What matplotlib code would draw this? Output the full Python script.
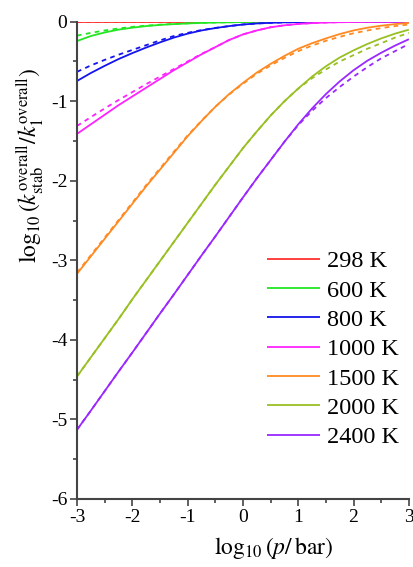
import matplotlib
matplotlib.use('Agg')
import matplotlib.pyplot as plt
import numpy as np
from matplotlib.ticker import MultipleLocator

plt.rcParams['font.family'] = ['Liberation Serif', 'DejaVu Serif']
plt.rcParams['mathtext.fontset'] = 'stix'
plt.rcParams['axes.unicode_minus'] = False

# log10(p / bar) grid
log_p = np.linspace(-3, 3, 25)

temps = ['298 K', '600 K', '800 K', '1000 K', '1500 K', '2000 K', '2400 K']
colors = ['#ff3030', '#22e622', '#1414ee', '#ff22ff', '#ff8a22', '#99c022', '#9a28ff']

# solid curves
k298 = [0.0] * 25
k600 = [-0.243, -0.18, -0.135, -0.10, -0.075, -0.055, -0.04, -0.03, -0.022, -0.015, -0.01, -0.007,
        -0.004, -0.002, -0.001, 0, 0, 0, 0, 0, 0, 0, 0, 0, 0]
k800 = [-0.745, -0.645, -0.555, -0.47, -0.395, -0.325, -0.26, -0.20, -0.15, -0.11, -0.08, -0.055,
        -0.035, -0.022, -0.014, -0.008, -0.005, -0.003, -0.002, -0.001, 0, 0, 0, 0, 0]
k1000 = [-1.41, -1.29, -1.17, -1.05, -0.94, -0.83, -0.72, -0.61, -0.51, -0.41, -0.32, -0.23,
         -0.16, -0.11, -0.07, -0.045, -0.028, -0.017, -0.01, -0.006, -0.004, -0.002, -0.001, 0, 0]
k1500 = [-3.17, -2.95, -2.73, -2.51, -2.29, -2.07, -1.86, -1.65, -1.44, -1.25, -1.07, -0.91,
         -0.77, -0.64, -0.53, -0.43, -0.34, -0.27, -0.21, -0.155, -0.11, -0.075, -0.05, -0.03, -0.015]
k2000 = [-4.46, -4.22, -3.98, -3.74, -3.49, -3.25, -3.01, -2.77, -2.53, -2.29, -2.05, -1.82,
         -1.59, -1.38, -1.18, -1.00, -0.84, -0.69, -0.56, -0.45, -0.36, -0.28, -0.21, -0.15, -0.10]
k2400 = [-5.13, -4.89, -4.645, -4.40, -4.16, -3.915, -3.67, -3.43, -3.185, -2.94, -2.70, -2.455,
         -2.21, -1.97, -1.74, -1.51, -1.29, -1.09, -0.91, -0.75, -0.61, -0.49, -0.39, -0.30, -0.22]

# dashed curves
d298 = [0.0] * 25
d600 = [-0.175, -0.14, -0.11, -0.085, -0.065, -0.05, -0.037, -0.028, -0.02, -0.014, -0.01, -0.007,
        -0.004, -0.002, -0.001, 0, 0, 0, 0, 0, 0, 0, 0, 0, 0]
d800 = [-0.63, -0.55, -0.48, -0.415, -0.355, -0.295, -0.235, -0.18, -0.14, -0.105, -0.078, -0.055,
        -0.035, -0.022, -0.014, -0.008, -0.005, -0.003, -0.002, -0.001, 0, 0, 0, 0, 0]
d1000 = [-1.31, -1.20, -1.09, -0.985, -0.885, -0.785, -0.69, -0.595, -0.50, -0.405, -0.32, -0.23,
         -0.16, -0.11, -0.07, -0.045, -0.028, -0.017, -0.01, -0.006, -0.004, -0.002, -0.001, 0, 0]
d1500 = [-3.155, -2.935, -2.715, -2.495, -2.275, -2.055, -1.845, -1.635, -1.43, -1.245, -1.07, -0.915,
         -0.78, -0.655, -0.55, -0.455, -0.37, -0.30, -0.24, -0.19, -0.145, -0.11, -0.08, -0.055, -0.035]
d2000 = [-4.46, -4.22, -3.98, -3.74, -3.49, -3.25, -3.01, -2.77, -2.53, -2.29, -2.05, -1.82,
         -1.59, -1.38, -1.18, -1.00, -0.84, -0.71, -0.60, -0.50, -0.42, -0.34, -0.27, -0.20, -0.14]
d2400 = [-5.13, -4.89, -4.645, -4.40, -4.16, -3.915, -3.67, -3.43, -3.185, -2.94, -2.70, -2.455,
         -2.21, -1.97, -1.74, -1.51, -1.30, -1.12, -0.96, -0.82, -0.69, -0.57, -0.46, -0.37, -0.28]

solid = [k298, k600, k800, k1000, k1500, k2000, k2400]
dashed = [d298, d600, d800, d1000, d1500, d2000, d2400]

fig = plt.figure(figsize=(4.13, 5.67), dpi=100)
ax = fig.add_axes([0.1864, 0.120, 0.8036, 0.8417])

for name, c, ys, yd in zip(temps, colors, solid, dashed):
    ax.plot(log_p, ys, color=c, lw=1.3, label=name, solid_capstyle='butt')
    ax.plot(log_p, yd, color=c, lw=1.3, dashes=(2.6, 2.4))

ax.set_xlim(-3, 3)
ax.set_ylim(-6, 0)
ax.xaxis.set_major_locator(MultipleLocator(1))
ax.xaxis.set_minor_locator(MultipleLocator(0.5))
ax.yaxis.set_major_locator(MultipleLocator(1))
ax.yaxis.set_minor_locator(MultipleLocator(0.5))

for s in ['top', 'right']:
    ax.spines[s].set_visible(False)
for s in ['left', 'bottom']:
    ax.spines[s].set_color('#444444')
    ax.spines[s].set_linewidth(1.5)
ax.tick_params(which='both', direction='out', color='#444444', width=1.2, labelsize=14, pad=2)
ax.tick_params(which='major', length=5)
ax.tick_params(which='minor', length=3)

ax.set_xlabel(r'$\log_{10}(p/\,\mathrm{bar})$', fontsize=17)
ax.xaxis.set_label_coords(0.593, -0.075)
ax.set_ylabel(r'$\log_{10}(k_{\mathrm{stab}}^{\mathrm{overall}}/k_{1}^{\mathrm{overall}})$', fontsize=17)
ax.yaxis.set_label_coords(-0.092, 0.70)

ax.legend(loc='center left', bbox_to_anchor=(0.6465, 0.384), bbox_transform=fig.transFigure,
          frameon=False, fontsize=17.5, handlelength=2.2, handletextpad=0.25, labelspacing=0.30,
          borderpad=0, borderaxespad=0)

fig.savefig('out.png', dpi=100)
